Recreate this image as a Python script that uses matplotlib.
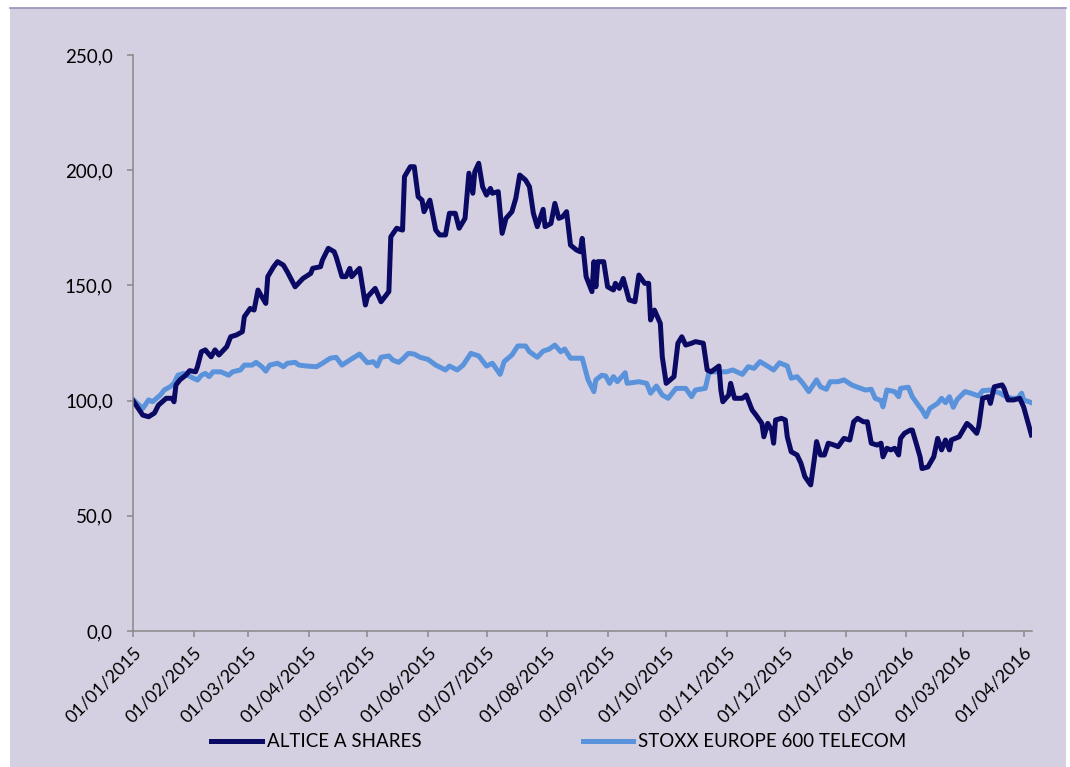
import numpy as np
import pandas as pd
import matplotlib
matplotlib.use("Agg")
import matplotlib.pyplot as plt
from matplotlib.patches import Rectangle
from matplotlib.lines import Line2D
from matplotlib.ticker import FuncFormatter

# Données (jours depuis le 01/01/2015, base 100)
altice_jours = [0, 5, 8, 11, 13, 17, 20, 21, 22, 24, 27, 29, 32, 33, 35, 37, 40, 42, 44, 48,
                50, 53, 56, 57, 60, 62, 64, 66, 68, 69, 72, 74, 77, 79, 83, 87, 91, 92, 96, 97,
                100, 103, 104, 107, 109, 111, 112, 116, 119, 120, 124, 127, 131, 132, 135, 138,
                139, 142, 144, 146, 148, 149, 152, 155, 157, 160, 162, 165, 167, 170, 172, 174,
                175, 177, 179, 181, 183, 184, 187, 189, 191, 194, 196, 198, 201, 203, 205, 207,
                210, 211, 214, 216, 218, 220, 222, 224, 227, 229, 230, 232, 235, 236, 237, 238,
                241, 243, 246, 247, 249, 251, 254, 257, 259, 262, 264, 265, 267, 270, 271, 273,
                277, 279, 281, 283, 286, 288, 292, 294, 296, 300, 301, 302, 305, 306, 308, 312,
                314, 317, 319, 322, 323, 325, 327, 328, 329, 332, 334, 335, 337, 340, 342, 344,
                347, 349, 350, 352, 354, 356, 359, 361, 364, 367, 369, 371, 374, 376, 378, 381,
                383, 384, 386, 388, 390, 392, 393, 395, 398, 399, 401, 403, 404, 407, 410, 412,
                414, 416, 418, 419, 421, 423, 427, 429, 432, 433, 435, 438, 439, 441, 445, 446,
                448, 451, 454, 456, 460]
altice = [100.0, 93.7, 93.0, 94.6, 98.0, 101.0, 101.0, 99.5, 106.8, 109.0, 111.0, 113.0, 112.5,
          114.7, 121.2, 122.0, 119.0, 122.0, 119.8, 123.4, 127.7, 128.5, 129.9, 136.4, 140.0,
          139.3, 148.0, 145.0, 142.2, 153.8, 158.1, 160.3, 158.8, 155.9, 149.4, 153.0, 155.2,
          157.4, 158.1, 161.0, 166.1, 164.6, 162.4, 153.8, 153.8, 157.4, 153.8, 157.4, 141.5,
          145.0, 148.7, 142.9, 147.3, 171.1, 174.8, 174.0, 197.2, 201.5, 201.5, 188.5, 187.0,
          182.0, 187.0, 174.0, 171.9, 171.9, 181.3, 181.3, 174.8, 179.1, 198.7, 190.0, 199.3,
          203.0, 192.8, 189.2, 192.1, 190.0, 190.7, 172.6, 179.1, 182.0, 187.8, 197.9, 195.7,
          192.8, 181.3, 175.5, 183.0, 175.5, 176.9, 185.6, 179.1, 179.8, 182.0, 167.5, 165.4,
          164.6, 170.4, 153.8, 147.3, 160.3, 149.4, 160.3, 160.3, 149.4, 148.0, 150.9, 148.7,
          153.0, 143.7, 142.9, 154.5, 150.9, 150.9, 135.0, 139.3, 133.5, 119.0, 107.5, 110.4,
          124.9, 127.7, 124.1, 124.9, 125.6, 124.9, 113.3, 112.5, 115.0, 104.6, 99.5, 102.4,
          107.5, 101.0, 101.0, 102.4, 95.9, 93.7, 90.1, 84.3, 90.1, 87.2, 81.5, 91.6, 92.3,
          91.6, 84.3, 77.8, 76.4, 72.8, 67.0, 63.4, 75.6, 82.2, 76.4, 76.4, 81.5, 80.7, 80.0,
          83.6, 82.9, 90.8, 92.3, 90.8, 90.8, 81.5, 80.7, 81.5, 75.6, 79.3, 78.6, 79.3, 76.4,
          83.6, 85.8, 87.2, 87.2, 81.5, 75.6, 70.5, 71.2, 75.6, 83.6, 78.6, 82.9, 78.6, 82.9,
          83.6, 84.3, 90.1, 88.7, 85.8, 88.7, 101.0, 101.7, 98.8, 106.0, 106.8, 105.3, 100.3,
          100.3, 101.0, 97.3, 85.1]

stoxx_jours = [0, 5, 8, 10, 14, 16, 19, 21, 23, 26, 28, 31, 33, 35, 37, 39, 41, 45, 49, 51,
               55, 57, 61, 63, 66, 68, 70, 74, 77, 79, 83, 85, 89, 94, 97, 101, 104, 107, 111,
               116, 120, 123, 125, 127, 131, 133, 136, 138, 141, 144, 147, 151, 155, 160, 162,
               166, 169, 173, 177, 181, 184, 188, 190, 194, 197, 201, 203, 207, 210, 213, 216,
               219, 221, 224, 230, 233, 236, 237, 240, 242, 244, 246, 248, 252, 253, 259, 263,
               265, 268, 271, 274, 278, 283, 286, 288, 293, 295, 299, 304, 307, 312, 315, 318,
               321, 324, 328, 331, 335, 337, 340, 343, 346, 350, 352, 355, 357, 361, 364, 368,
               371, 375, 378, 380, 383, 384, 386, 390, 392, 393, 397, 399, 402, 404, 406, 408,
               412, 414, 416, 418, 420, 422, 426, 429, 433, 435, 439, 444, 447, 450, 453, 455,
               456, 460]
stoxx = [100.5, 96.6, 100.3, 99.5, 102.4, 104.6, 106.0, 107.5, 111.0, 111.8, 111.0, 109.7,
         108.9, 111.0, 111.8, 110.4, 112.5, 112.5, 111.0, 112.5, 113.3, 115.4, 115.4, 116.6,
         114.7, 112.8, 115.4, 116.2, 114.7, 116.2, 116.6, 115.4, 115.0, 114.7, 116.2, 118.4,
         118.8, 115.4, 117.6, 120.2, 116.4, 116.9, 115.0, 118.8, 119.4, 117.6, 116.6, 118.0,
         120.5, 120.2, 118.8, 117.9, 115.4, 113.3, 115.0, 113.3, 115.4, 120.5, 119.4, 115.0,
         116.2, 111.4, 116.9, 119.8, 123.7, 123.7, 121.2, 118.8, 121.5, 122.3, 124.1, 121.2,
         122.4, 118.4, 118.4, 109.0, 103.9, 109.0, 111.0, 110.7, 107.5, 110.4, 108.2, 112.1,
         107.5, 108.2, 107.5, 103.2, 106.3, 102.4, 101.0, 105.3, 105.3, 101.7, 104.6, 105.3,
         112.5, 112.5, 112.5, 113.3, 111.4, 114.7, 114.0, 116.9, 115.4, 113.3, 116.4, 115.0,
         109.7, 110.4, 107.5, 103.9, 109.0, 106.0, 104.9, 108.2, 108.2, 109.0, 106.8, 105.8,
         104.6, 104.9, 101.0, 100.0, 97.3, 104.6, 103.9, 101.7, 105.3, 105.8, 101.7, 98.1,
         95.9, 93.0, 96.6, 98.8, 101.0, 99.1, 101.7, 97.1, 100.5, 103.9, 103.2, 102.0, 104.3,
         104.6, 103.2, 101.7, 101.0, 101.0, 103.2, 100.3, 99.1]

debut = pd.Timestamp("2015-01-01")
mois = pd.date_range("2015-01-01", "2016-04-01", freq="MS")
noms = ["ALTICE A SHARES", "STOXX EUROPE 600 TELECOM"]
couleurs = ["#0A0A64", "#5A93DB"]

dates_altice = debut + pd.to_timedelta(altice_jours, unit="D")
dates_stoxx = debut + pd.to_timedelta(stoxx_jours, unit="D")

plt.rcParams['font.family'] = ['Lato', 'DejaVu Sans']

fig = plt.figure(figsize=(10.7, 7.67), dpi=100)
fig.patch.set_facecolor("white")
fond = "#D5D0E1"
fig.patches.append(Rectangle((10/1070, 0), 1056/1070, 759/767, transform=fig.transFigure,
                             facecolor=fond, edgecolor="none", zorder=-10))
fig.lines.append(Line2D([10/1070, 1066/1070], [759/767, 759/767], transform=fig.transFigure,
                        color="#9A90BA", lw=1.2))

ax = fig.add_axes([133/1070, 1 - 631/767, 899/1070, 576/767])
ax.set_facecolor("none")

ax.plot(dates_stoxx, stoxx, color=couleurs[1], lw=3.6, label=noms[1], solid_joinstyle="round")
ax.plot(dates_altice, altice, color=couleurs[0], lw=3.6, label=noms[0], solid_joinstyle="round")

ax.set_ylim(0, 250)
ax.set_yticks(np.arange(0, 251, 50))
ax.yaxis.set_major_formatter(FuncFormatter(lambda v, p: f"{v:.1f}".replace(".", ",")))
ax.set_xlim(debut, debut + pd.Timedelta(days=460.3))
ax.set_xticks(mois)
ax.set_xticklabels([d.strftime("%d/%m/%Y") for d in mois], rotation=45, ha="right",
                   rotation_mode="anchor")

for s in ["top", "right"]:
    ax.spines[s].set_visible(False)
for s in ["left", "bottom"]:
    ax.spines[s].set_color("#888888")
    ax.spines[s].set_linewidth(1.1)
ax.tick_params(axis="both", colors="#888888", labelcolor="black", labelsize=13.5, width=1.1,
               length=4.5, direction="out")
ax.tick_params(axis="y", pad=10)
ax.tick_params(axis="x", labelsize=13, pad=5)

h = ax.get_legend_handles_labels()
handles = [h[0][1], h[0][0]]
fig.legend(handles, noms, loc="center", bbox_to_anchor=(0.5224, 0.033), ncol=2, frameon=False,
           fontsize=13.5, handlelength=2.7, handletextpad=0.27, columnspacing=8.6)

fig.savefig("out.png", dpi=100)
